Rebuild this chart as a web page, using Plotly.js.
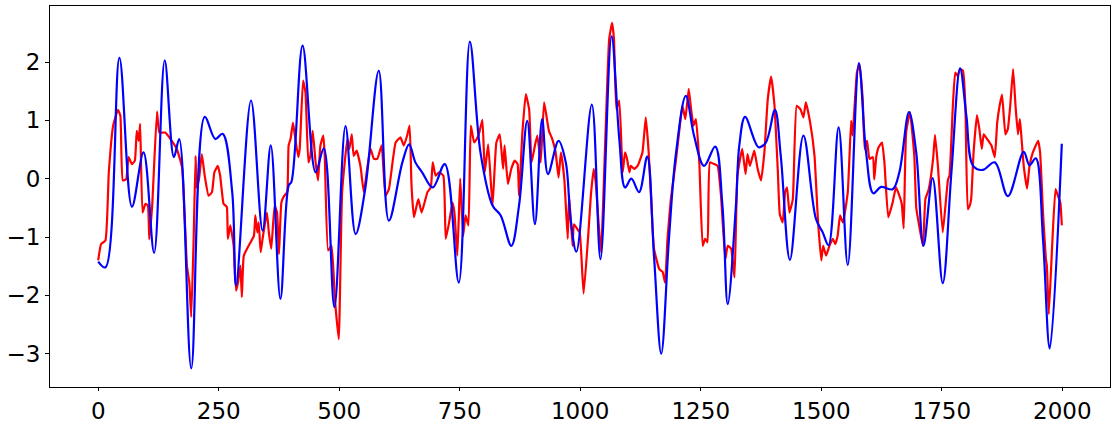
<!DOCTYPE html>
<html>
<head>
<meta charset="utf-8">
<script src="https://cdn.plot.ly/plotly-3.0.1.min.js"></script>
<style>html,body{margin:0;padding:0;background:#fff;}#chart{width:1117px;height:425px;}</style>
</head>
<body>
<div id="chart"></div>
<script>
// Blue series (smooth)
const blueX = [0,15,44,70,94,116,138,157,168,193,221,243,258,278,286,317,341,358,378,395,401,424,451,468,490,513,534,554,582,603,631,645,658,672,694,719,748,771,793,818,835,857,873,890,906,921,933,955,970,980,992,1024,1042,1065,1081,1093,1106,1122,1139,1153,1168,1184,1198,1219,1236,1257,1280,1295,1306,1323,1330,1342,1370,1385,1404,1416,1435,1463,1489,1503,1515,1536,1555,1578,1593,1608,1624,1648,1662,1682,1697,1712,1731,1752,1770,1788,1801,1815,1835,1860,1887,1920,1932,1945,1960,1974,1999];
const blueY = [-1.42,-1.52,2.07,-0.48,0.45,-1.27,2.03,0.37,0.68,-3.25,1.06,0.68,0.77,-0.23,-1.83,1.34,-0.89,0.57,-2.06,-0.12,-0.05,2.28,0.11,0.52,-2.20,0.90,-0.95,-0.17,1.85,-0.72,0.28,0.59,0.28,0.11,-0.15,0.25,-1.78,2.35,0.45,-0.46,-0.63,-1.15,-0.46,0.99,-0.78,1.02,0.08,0.65,0.28,-0.69,-1.25,1.27,-1.38,2.44,0.68,-0.15,0.0,-0.23,0.38,-1.32,-3.0,-1.03,0.39,1.42,0.74,0.22,0.55,-0.46,-2.15,-0.46,0.57,1.06,0.54,0.62,1.18,0.39,-1.39,0.74,-0.69,-0.92,-1.14,0.88,-1.48,1.98,0.45,-0.25,-0.14,-0.18,0.11,1.14,0.45,-1.15,0.01,-1.79,0.11,1.89,1.08,0.22,0.15,0.28,-0.30,0.46,0.23,0.35,-1.03,-2.91,0.60];

// Red series (noisy)
const redX = [0,6,15,22,31,41,46,51,58,63,70,76,80,84,87,92,98,103,106,112,122,127,139,150,163,174,184,189,193,198,202,204,209,215,221,229,236,241,248,253,260,264,267,269,274,281,286,290,295,298,302,312,323,326,330,333,337,341,350,354,359,366,371,375,380,386,392,395,399,404,408,415,418,425,430,436,440,445,451,456,461,467,470,477,484,491,499,506,517,521,526,530,536,544,551,558,565,572,579,588,596,603,617,627,634,641,646,650,655,664,671,683,690,694,700,707,716,721,728,735,739,745,751,757,762,768,773,780,789,797,802,809,818,826,833,840,843,850,857,864,870,873,880,887,894,899,906,911,918,925,935,942,949,955,960,967,974,977,984,987,996,999,1007,1017,1022,1028,1032,1043,1052,1060,1066,1070,1075,1081,1088,1093,1097,1102,1105,1112,1119,1129,1136,1142,1147,1153,1164,1171,1176,1181,1188,1198,1205,1212,1218,1225,1230,1235,1240,1247,1254,1259,1264,1269,1278,1285,1292,1301,1306,1313,1320,1326,1336,1343,1347,1352,1361,1368,1375,1382,1389,1396,1403,1410,1414,1420,1425,1429,1434,1441,1449,1457,1463,1468,1477,1486,1493,1500,1504,1510,1517,1524,1529,1534,1539,1545,1555,1562,1565,1574,1579,1586,1590,1595,1600,1607,1610,1614,1619,1626,1631,1639,1648,1655,1662,1667,1671,1676,1684,1693,1697,1702,1711,1716,1723,1732,1736,1742,1752,1763,1766,1773,1778,1783,1788,1794,1799,1804,1808,1811,1816,1823,1828,1833,1837,1844,1853,1860,1865,1870,1875,1882,1887,1892,1898,1903,1908,1912,1915,1920,1927,1932,1939,1950,1954,1960,1966,1968,1972,1979,1986,1991,1996,1999];
const redY = [-1.40,-1.12,-1.06,0.11,0.91,1.18,1.08,-0.03,-0.01,0.37,0.25,0.31,0.82,0.65,0.94,-0.58,-0.43,-0.46,-1.04,-0.46,1.15,0.79,0.79,0.68,0.51,0.19,-1.49,-1.78,-2.37,-1.03,0.39,-0.15,-0.01,0.42,0.05,-0.29,-0.23,0.11,0.22,0.05,-0.43,-0.46,-0.49,-1.03,-0.80,-1.15,-1.92,-1.78,-1.49,-2.03,-1.32,-1.15,-0.98,-0.63,-0.92,-0.75,-1.26,-1.03,-0.58,-0.92,-1.20,-0.46,-0.58,-1.29,-0.41,-0.29,-0.23,0.57,0.68,0.96,0.74,0.37,0.51,1.68,1.48,0.28,0.39,0.82,0.28,-0.03,0.57,0.74,0.39,-1.23,-1.15,-2.06,-2.75,-0.23,0.68,0.51,0.76,0.39,0.48,0.22,-0.23,0.17,0.51,0.34,0.34,0.57,-0.29,-0.18,0.62,0.71,0.57,0.74,0.91,-0.12,-0.66,-0.35,-0.58,-0.23,-0.15,0.28,0.05,0.11,0.05,-1.03,-0.75,-0.41,-0.58,-1.32,0.0,-0.98,-0.63,-0.80,0.91,0.62,0.74,1.01,0.11,0.59,-0.46,0.62,0.76,0.17,0.57,-0.09,0.17,0.31,0.25,-0.29,0.79,1.45,1.19,0.28,0.57,0.74,0.28,1.31,0.82,0.68,0.45,0.02,0.45,-0.01,-1.03,-0.29,-1.15,-0.78,-0.89,-0.92,-1.97,-0.92,-0.29,0.17,-0.06,-1.26,0.68,2.39,2.67,2.39,1.19,1.34,0.11,0.45,0.34,0.11,0.22,0.17,0.22,0.45,1.05,0.45,-0.35,-1.20,-1.55,-1.60,-1.78,-1.03,-0.35,0.28,0.79,1.25,1.02,1.54,1.19,0.91,1.02,0.28,-1.15,-1.03,-1.09,0.28,0.25,0.22,-0.29,-1.38,-1.15,-1.20,-1.69,0.05,0.51,0.08,0.42,0.22,0.48,0.17,-0.03,0.45,1.36,1.75,1.25,0.11,-0.61,-0.75,-0.23,-0.15,-0.58,-0.35,1.25,1.19,1.05,1.31,0.96,0.39,-0.69,-1.40,-1.15,-1.32,-1.15,-1.03,-1.12,-0.98,-0.63,-0.75,-0.23,0.99,0.74,1.82,1.96,1.36,0.51,0.65,0.34,0.37,-0.01,0.37,0.54,0.62,0.28,-0.66,-0.41,-0.15,-0.29,-0.43,-0.85,0.79,1.14,0.39,-0.49,-0.75,-1.15,-0.35,-0.18,0.34,0.75,0.22,-0.92,-0.01,0.05,1.25,1.82,1.76,1.88,1.85,1.25,-0.52,-0.46,-0.35,0.45,1.09,0.85,0.51,0.76,0.68,0.57,0.37,0.96,1.25,1.44,0.76,0.85,1.25,1.88,1.25,0.76,1.02,0.74,0.22,-0.17,0.22,0.45,0.65,0.45,-0.58,-1.38,-1.49,-2.32,-1.15,-0.18,-0.29,-0.41,-0.80];

const xTicks = [0,250,500,750,1000,1250,1500,1750,2000];
const yTicks = [-3,-2,-1,0,1,2];

const traces = [
  {x: redX, y: redY, type: 'scatter', mode: 'lines',
   line: {color: '#ff0000', width: 2.2, shape: 'spline', smoothing: 0.4}, hoverinfo: 'skip'},
  {x: blueX, y: blueY, type: 'scatter', mode: 'lines',
   line: {color: '#0000ff', width: 2.2, shape: 'spline', smoothing: 1}, hoverinfo: 'skip'}
];

const axisCommon = {
  showgrid: false, zeroline: false, showline: true, mirror: true,
  linecolor: '#000', linewidth: 1, ticks: 'outside', ticklen: 3, tickwidth: 1, tickcolor: '#000',
  tickfont: {family: 'DejaVu Sans', size: 23, color: '#000'}
};

const layout = {
  width: 1117, height: 425,
  margin: {l: 50, r: 7, t: 6, b: 38},
  paper_bgcolor: '#fff', plot_bgcolor: '#fff',
  showlegend: false,
  xaxis: Object.assign({}, axisCommon, {range: [-100, 2099], tickvals: xTicks, ticktext: xTicks.map(String)}),
  yaxis: Object.assign({}, axisCommon, {ticklen: 4, range: [-3.57, 2.96], tickvals: yTicks, ticktext: yTicks.map(v => v < 0 ? '\u2212' + Math.abs(v) : String(v))})
};

Plotly.newPlot('chart', traces, layout, {staticPlot: true, displayModeBar: false});
</script>
</body>
</html>
